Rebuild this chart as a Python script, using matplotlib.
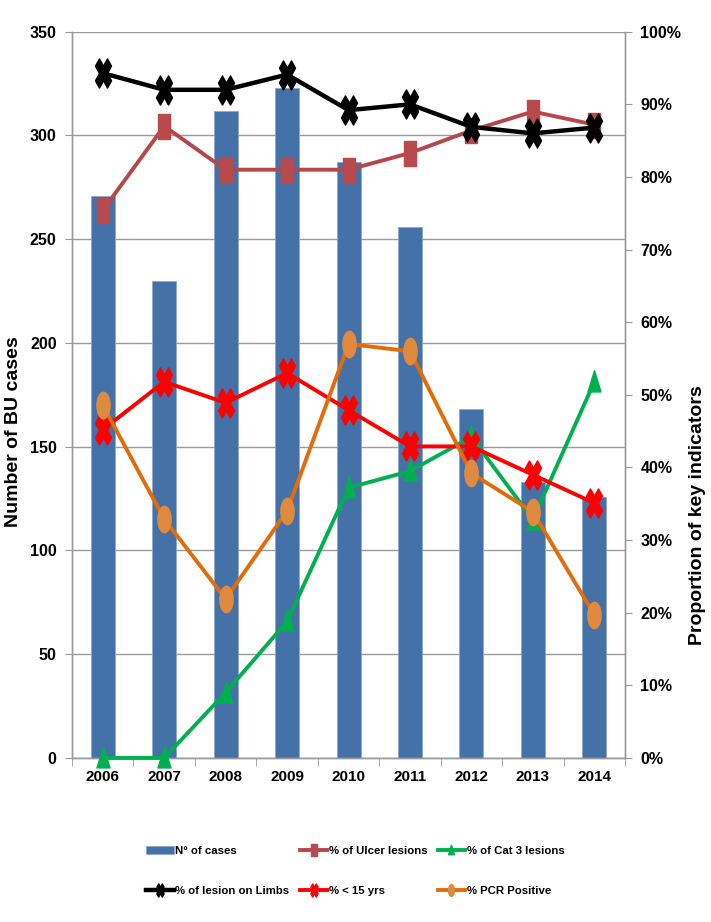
import matplotlib
matplotlib.use("Agg")
import matplotlib.pyplot as plt
import numpy as np
from matplotlib.markers import MarkerStyle
from matplotlib.path import Path
from matplotlib.transforms import Affine2D
from matplotlib.ticker import FuncFormatter

plt.rcParams['font.family'] = ['Liberation Sans', 'DejaVu Sans']
plt.rcParams['font.weight'] = 'bold'

# Données
years = ['2006', '2007', '2008', '2009', '2010', '2011', '2012', '2013', '2014']
n_cases = [271, 230, 312, 323, 287, 256, 168, 133, 126]
pct_ulcer = [75.4, 87.0, 81.0, 81.0, 81.0, 83.3, 86.4, 89.0, 87.2]
pct_cat3 = [0, 0, 9.0, 18.8, 37.2, 39.5, 44.2, 32.8, 51.8]
pct_limbs = [94.3, 92.0, 92.0, 94.1, 89.2, 90.0, 86.9, 86.0, 86.8]
pct_under15 = [45.2, 51.8, 48.9, 53.0, 47.9, 42.9, 42.9, 39.0, 35.1]
pct_pcr = [48.6, 32.9, 21.9, 34.0, 57.0, 56.0, 39.2, 33.9, 19.7]

# Marqueurs allongés verticalement (comme sur l'image d'origine)
mx = MarkerStyle('X')
x_marker = mx.get_path().transformed(mx.get_transform()).transformed(Affine2D().scale(0.55, 1.0))
ellipse_marker = Path.unit_circle().transformed(Affine2D().scale(0.5, 1.0))
rect_marker = Path([(-0.5, -1), (0.5, -1), (0.5, 1), (-0.5, 1), (-0.5, -1)],
                   [Path.MOVETO, Path.LINETO, Path.LINETO, Path.LINETO, Path.CLOSEPOLY])
tri_marker = Path([(0, 1), (0.55, -0.8), (-0.55, -0.8), (0, 1)],
                  [Path.MOVETO, Path.LINETO, Path.LINETO, Path.CLOSEPOLY])

fig = plt.figure(figsize=(7.11, 9.22), dpi=100)
ax = fig.add_axes([0.1013, 0.1779, 0.7778, 0.7877])
ax2 = ax.twinx()

x = np.arange(len(years))
grid_c = '#9a9a9a'

ax.bar(x, n_cases, width=0.39, color='#4571A9', edgecolor='#8FA9CF', linewidth=0.6,
       label='N° of cases', zorder=2)
ax.set_xlim(-0.5, len(years) - 0.5)
ax.set_ylim(0, 350)
ax.set_yticks(np.arange(0, 351, 50))
ax.yaxis.grid(True, color=grid_c, linewidth=1.0, zorder=0)
ax.set_axisbelow(True)
ax.set_xticks(x)
ax.set_xticklabels(years)
ax.set_xticks(np.arange(-0.5, len(years), 1), minor=True)
ax.tick_params(axis='x', which='major', length=0, labelsize=11, pad=9)
ax.tick_params(axis='x', which='minor', length=6, color=grid_c, direction='out')
ax.tick_params(axis='y', length=5, color=grid_c, labelsize=11.5, pad=6)

lw = 2.8
ax2.plot(x, pct_ulcer, color='#B5474B', lw=lw, marker=rect_marker, ms=18,
         mfc='#B84A4D', mec='#B84A4D', label='% of Ulcer lesions', zorder=3, clip_on=False)
ax2.plot(x, pct_cat3, color='#00B050', lw=lw, marker=tri_marker, ms=17,
         mfc='#00B050', mec='#00B050', label='% of Cat 3 lesions', zorder=4, clip_on=False)
ax2.plot(x, pct_limbs, color='black', lw=lw + 0.4, marker=x_marker, ms=21,
         mfc='black', mec='black', label='% of lesion on Limbs', zorder=5, clip_on=False)
ax2.plot(x, pct_under15, color='#FF0000', lw=lw, marker=x_marker, ms=21,
         mfc='#FF0000', mec='#FF0000', label='% < 15 yrs', zorder=6, clip_on=False)
ax2.plot(x, pct_pcr, color='#E36C0A', lw=lw, marker=ellipse_marker, ms=19,
         mfc='#E08A40', mec='#E08A40', label='% PCR Positive', zorder=7, clip_on=False)
ax2.set_ylim(0, 100)
ax2.set_yticks(np.arange(0, 101, 10))
ax2.yaxis.set_major_formatter(FuncFormatter(lambda v, p: f'{v:.0f}%'))
ax2.tick_params(axis='y', length=5, color=grid_c, labelsize=11.5, pad=6)

for a in (ax, ax2):
    a.spines['top'].set_visible(False)
    for s in ('left', 'right', 'bottom'):
        a.spines[s].set_color(grid_c)
        a.spines[s].set_linewidth(1.0)

ax.set_ylabel('Number of BU cases', fontsize=14, fontweight='bold')
ax.yaxis.set_label_coords(-0.09, 0.45)
ax2.set_ylabel('Proportion of key indicators', fontsize=14, fontweight='bold')
ax2.yaxis.set_label_coords(1.115, 0.335)

# Légende sur deux lignes (ordre colonne par colonne)
h1, l1 = ax.get_legend_handles_labels()
h2, l2 = ax2.get_legend_handles_labels()
handles = [h1[0], h2[2], h2[0], h2[3], h2[1], h2[4]]
labels = [l1[0], l2[2], l2[0], l2[3], l2[1], l2[4]]
fig.legend(handles, labels, ncol=3, loc='center', bbox_to_anchor=(0.5, 1 - 871 / 922),
           frameon=False, fontsize=8.2, markerscale=0.45, handlelength=2.4,
           handletextpad=0.15, columnspacing=0.9, labelspacing=2.7)

fig.savefig('out.png', dpi=100)
